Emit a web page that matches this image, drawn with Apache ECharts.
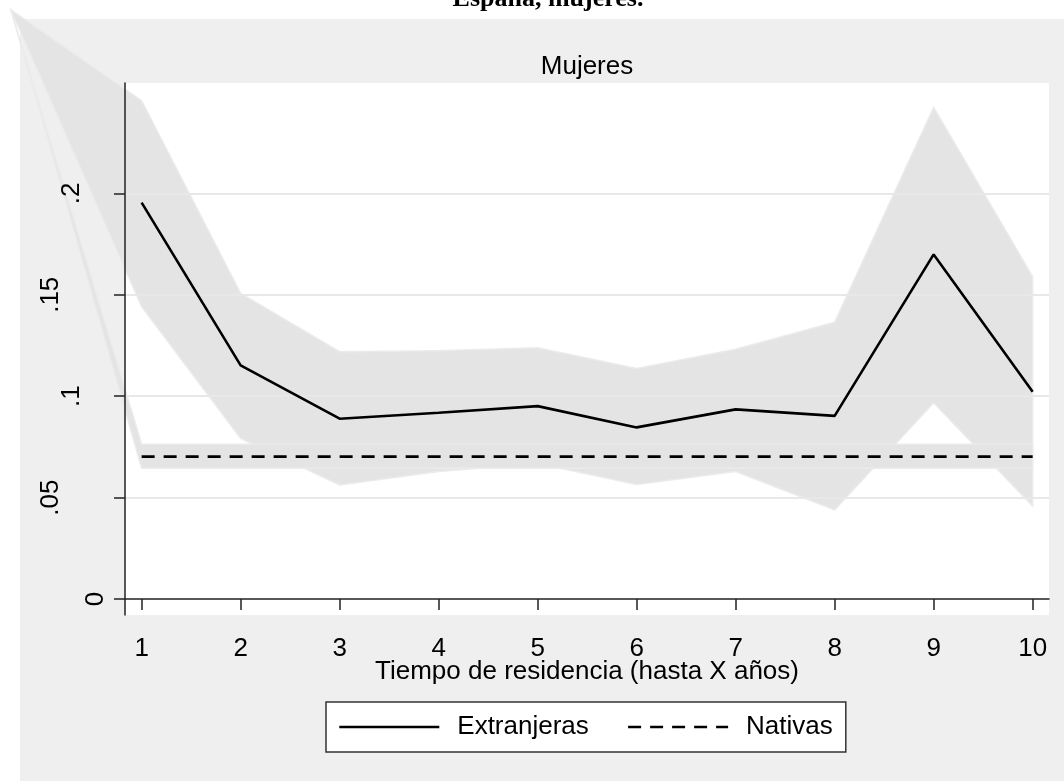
<!DOCTYPE html>
<html>
<head>
<meta charset="utf-8">
<script src="https://cdn.jsdelivr.net/npm/echarts@6/dist/echarts.min.js"></script>
<style>
  html, body { margin: 0; padding: 0; background: #fff; }
  #chart { width: 1064px; height: 781px; }
</style>
</head>
<body>
<div id="chart"></div>
<script>
// Tiempo de residencia (años)
const years = [1, 2, 3, 4, 5, 6, 7, 8, 9, 10];

// Extranjeras: estimación puntual e intervalo de confianza
const extranjeras   = [0.1954, 0.1152, 0.0889, 0.0918, 0.0951, 0.0846, 0.0935, 0.0903, 0.1699, 0.1022];
const extranjerasHi = [0.2457, 0.1507, 0.1219, 0.1224, 0.1239, 0.1137, 0.1231, 0.1364, 0.2424, 0.1589];
const extranjerasLo = [0.1441, 0.0792, 0.0562, 0.0628, 0.0668, 0.0565, 0.0628, 0.0439, 0.0968, 0.0458];

// Nativas: estimación e intervalo
const nativas   = [0.0702, 0.0702, 0.0702, 0.0702, 0.0702, 0.0702, 0.0702, 0.0702, 0.0702, 0.0702];
const nativasHi = [0.0763, 0.0763, 0.0763, 0.0763, 0.0763, 0.0763, 0.0763, 0.0763, 0.0763, 0.0763];
const nativasLo = [0.0644, 0.0644, 0.0644, 0.0644, 0.0644, 0.0644, 0.0644, 0.0644, 0.0644, 0.0644];

// Vértice común de los polígonos de las bandas (unidades de datos)
const bandOrigin = [-0.32, 0.2904];

// Marcas del eje Y
const yTicks = [0, 0.05, 0.1, 0.15, 0.2];
const yTickLabels = ['0', '.05', '.1', '.15', '.2'];
const gridValues = [0.05, 0.1, 0.15, 0.2];

const SANS = '"Liberation Sans", Arial, sans-serif';
const AXIS_COLOR = '#222';
const X_MIN = 0.832, X_MAX = 10.165;
const Y_MIN = -0.00789, Y_MAX = 0.2544;

function yLabel(v) {
  const i = yTicks.findIndex(t => Math.abs(t - v) < 1e-9);
  return i >= 0 ? yTickLabels[i] : '';
}

function bandSeries(name, hi, lo, z) {
  return {
    type: 'custom',
    name: name,
    z: z,
    silent: true,
    clip: false,
    data: [[years[0], hi[0]]],
    renderItem: function (params, api) {
      const pts = [api.coord(bandOrigin)];
      for (let i = 0; i < years.length; i++) pts.push(api.coord([years[i], hi[i]]));
      for (let i = years.length - 1; i >= 0; i--) pts.push(api.coord([years[i], lo[i]]));
      return {
        type: 'polygon',
        shape: { points: pts },
        style: { fill: '#e4e4e4', stroke: '#ebebeb', lineWidth: 1.5 }
      };
    }
  };
}

function yAxisDef(labelValues, margin, main) {
  return {
    type: 'value',
    position: 'left',
    offset: 0,
    min: Y_MIN,
    max: Y_MAX,
    z: 10,
    splitLine: { show: false },
    axisLine: { show: main, lineStyle: { color: AXIS_COLOR, width: 1.5 } },
    axisTick: { show: main, length: 11, customValues: yTicks, lineStyle: { color: AXIS_COLOR, width: 1.5 } },
    axisLabel: {
      customValues: labelValues,
      rotate: 90,
      margin: margin,
      fontSize: 26,
      fontFamily: SANS,
      color: '#000',
      formatter: yLabel
    }
  };
}

const chart = echarts.init(document.getElementById('chart'), null, { renderer: 'canvas' });

chart.setOption({
  animation: false,
  backgroundColor: '#fff',
  graphic: [
    { type: 'rect', x: 20, y: 19, z: -100, shape: { width: 1044, height: 762 }, style: { fill: '#efefef' }, silent: true },
    { type: 'text', x: 548, y: -0.5, z: 100,
      style: { text: 'España, mujeres.', font: 'bold 26px "Liberation Serif", "Times New Roman", serif', fill: '#000',
               align: 'center', verticalAlign: 'middle', textAlign: 'center', textVerticalAlign: 'middle' } },
    { type: 'text', x: 587, y: 67, z: 100,
      style: { text: 'Mujeres', font: '26px ' + SANS, fill: '#000',
               align: 'center', verticalAlign: 'middle', textAlign: 'center', textVerticalAlign: 'middle' } }
  ],
  grid: {
    left: 125, right: 15, top: 83, bottom: 166,
    show: true, backgroundColor: '#fff', borderWidth: 0, containLabel: false
  },
  legend: {
    data: ['Extranjeras', 'Nativas'],
    left: 326, top: 702,
    orient: 'horizontal',
    itemWidth: 100, itemHeight: 26, itemGap: 38,
    padding: [12, 13, 12, 12],
    backgroundColor: '#fff',
    borderColor: '#333', borderWidth: 1.5,
    selectedMode: false,
    itemStyle: { opacity: 0, borderWidth: 0 },
    lineStyle: { width: 2.6 },
    textStyle: { fontSize: 26, fontFamily: SANS, color: '#000', padding: [0, 0, 0, 13] }
  },
  xAxis: {
    type: 'value',
    min: X_MIN, max: X_MAX,
    z: 10,
    name: 'Tiempo de residencia (hasta X años)',
    nameLocation: 'middle',
    nameGap: 44,
    nameMoveOverlap: false,
    nameTextStyle: { fontSize: 26, fontFamily: SANS, color: '#000' },
    splitLine: { show: false },
    axisLine: { show: true, lineStyle: { color: AXIS_COLOR, width: 1.5 } },
    axisTick: { show: true, length: 11, customValues: years, lineStyle: { color: AXIS_COLOR, width: 1.5 } },
    axisLabel: { customValues: years, margin: 21, fontSize: 26, fontFamily: SANS, color: '#000' }
  },
  yAxis: [
    yAxisDef([0], 16, true),
    yAxisDef([0.1, 0.2], 40, false),
    yAxisDef([0.05, 0.15], 61, false)
  ],
  series: [
    {
      type: 'line',
      name: 'rejilla',
      z: 1,
      data: [],
      silent: true,
      markLine: {
        silent: true,
        symbol: 'none',
        label: { show: false },
        lineStyle: { color: '#e8e8e8', width: 2, type: 'solid' },
        data: gridValues.map(v => ({ yAxis: v }))
      }
    },
    bandSeries('IC Extranjeras', extranjerasHi, extranjerasLo, 2),
    bandSeries('IC Nativas', nativasHi, nativasLo, 3),
    {
      type: 'line',
      name: 'Extranjeras',
      z: 5,
      symbol: 'none',
      data: years.map((x, i) => [x, extranjeras[i]]),
      lineStyle: { color: '#000', width: 2.6, type: 'solid' },
      itemStyle: { color: '#000' }
    },
    {
      type: 'line',
      name: 'Nativas',
      z: 5,
      symbol: 'none',
      data: years.map((x, i) => [x, nativas[i]]),
      lineStyle: { color: '#000', width: 2.6, type: [13, 9] },
      itemStyle: { color: '#000' }
    }
  ]
});
</script>
</body>
</html>
